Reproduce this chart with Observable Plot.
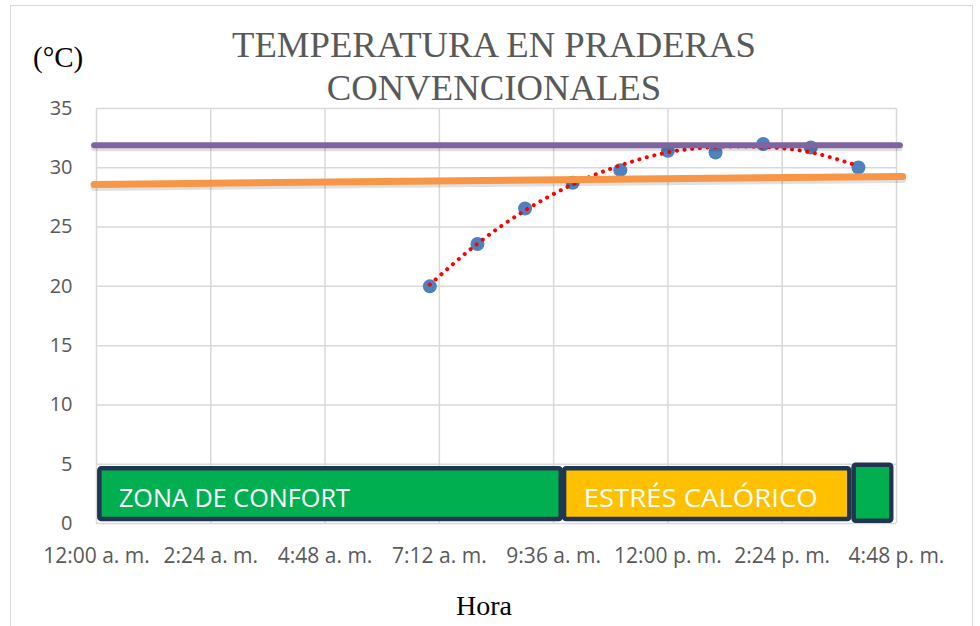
<!DOCTYPE html>
<html>
<head>
<meta charset="utf-8">
<script src="https://cdn.jsdelivr.net/npm/d3@7"></script>
<script src="https://cdn.jsdelivr.net/npm/@observablehq/plot@0.6"></script>
<style>
  body { margin: 0; background: #fff; }
  #wrap { position: relative; width: 980px; height: 626px; overflow: hidden; background: #fff; }
  #wrap svg { position: absolute; left: 0; top: 0; }
  .frame { position: absolute; left: 10px; top: 5px; width: 963px; height: 640px; border: 1.5px solid #d9d9d9; box-sizing: border-box; }
  .title { position: absolute; left: 0; width: 988px; top: 23px; text-align: center; font-family: "Liberation Serif", "Times New Roman", serif; font-size: 36.7px; line-height: 43px; color: #595959; }
  .unit { position: absolute; left: 33px; top: 43px; font-family: "Liberation Serif", serif; font-size: 29px; line-height: 29px; color: #000; }
  .xtitle { position: absolute; left: 0; width: 968px; top: 592px; text-align: center; font-family: "Liberation Serif", serif; font-size: 28px; line-height: 28px; color: #000; }
</style>
</head>
<body>
<div id="wrap">
  <div class="frame"></div>
</div>
<script>
// ---- data ----
const horas = [7, 8, 9, 10, 11, 12, 13, 14, 15, 16];
const temperaturas = [20.0, 23.57, 26.57, 28.74, 29.8, 31.43, 31.29, 32.0, 31.71, 30.03];
const tendencia = [20.15, 23.6, 26.4, 28.6, 30.2, 31.3, 31.75, 31.75, 31.3, 30.15];
const xTicks = [0, 2.4, 4.8, 7.2, 9.6, 12, 14.4, 16.8];
const xTickLabels = ["12:00 a. m.", "2:24 a. m.", "4:48 a. m.", "7:12 a. m.", "9:36 a. m.", "12:00 p. m.", "2:24 p. m.", "4:48 p. m."];
const yTicks = [0, 5, 10, 15, 20, 25, 30, 35];
const limiteSuperiorHoras = [-0.05, 16.87];
const limiteSuperiorTemp = [31.9, 31.9];
const lineaNaranjaHoras = [-0.05, 16.93];
const lineaNaranjaTemp = [28.6, 29.27];
const zonaNombres = ["ZONA DE CONFORT", "ESTRÉS CALÓRICO", ""];
const zonaInicio = [0.07, 9.83, 15.91];
const zonaFin = [9.76, 15.82, 16.70];
const zonaBase = [0.34, 0.34, 0.2];
const zonaTope = [4.62, 4.62, 4.91];
const zonaTipo = ["confort", "estres", "confort"];

// ---- tables ----
const puntos = horas.map((h, i) => ({h, t: temperaturas[i]}));
const trend = horas.map((h, i) => ({h, t: tendencia[i]}));
const purpura = limiteSuperiorHoras.map((h, i) => ({h, t: limiteSuperiorTemp[i]}));
const naranja = lineaNaranjaHoras.map((h, i) => ({h, t: lineaNaranjaTemp[i]}));
const zonas = zonaNombres.map((n, i) => ({n, x1: zonaInicio[i], x2: zonaFin[i], y1: zonaBase[i], y2: zonaTope[i], tipo: zonaTipo[i]}));
const zonaColor = {confort: "#00b050", estres: "#ffc000"};
const labelMap = new Map(xTicks.map((v, i) => [v, xTickLabels[i]]));
const textWidths = {"ZONA DE CONFORT": 231, "ESTRÉS CALÓRICO": 234};

const chart = Plot.plot({
  width: 980,
  height: 626,
  marginLeft: 96,
  marginRight: 84,
  marginTop: 108,
  marginBottom: 103,
  style: {fontFamily: "'Open Sans', sans-serif", background: "transparent"},
  x: {domain: [0, 16.8]},
  y: {domain: [0, 35]},
  marks: [
    Plot.gridX(xTicks, {stroke: "#d9d9d9", strokeOpacity: 1, strokeWidth: 1.5}),
    Plot.gridY(yTicks, {stroke: "#d9d9d9", strokeOpacity: 1, strokeWidth: 1.5}),
    Plot.axisX(xTicks, {tickSize: 0, tickPadding: 25, fontSize: 21, fill: "#595959", tickFormat: d => labelMap.get(d), label: null}),
    Plot.axisY(yTicks, {tickSize: 0, tickPadding: 24, fontSize: 20, fill: "#595959", label: null}),
    Plot.dot(puntos, {x: "h", y: "t", r: 7, fill: "#4f81bd", stroke: "none"}),
    Plot.line(trend, {x: "h", y: "t", curve: "natural", stroke: "#ff0000", strokeWidth: 4, strokeDasharray: "0.1 7.6", strokeLinecap: "round"}),
    Plot.line(naranja, {x: "h", y: "t", stroke: "#000", strokeOpacity: 0.12, strokeWidth: 7, dy: 3}),
    Plot.line(naranja, {x: "h", y: "t", stroke: "#f79646", strokeWidth: 7}),
    Plot.line(purpura, {x: "h", y: "t", stroke: "#000", strokeOpacity: 0.12, strokeWidth: 6, dy: 3}),
    Plot.line(purpura, {x: "h", y: "t", stroke: "#8064a2", strokeWidth: 6}),
    Plot.rect(zonas, {x1: "x1", x2: "x2", y1: "y1", y2: "y2", fill: d => zonaColor[d.tipo], stroke: "#1f3550", strokeWidth: 4.5, rx: 2}),
    Plot.text(zonas, {x: d => d.x1 + 0.4, y: 2.1, text: "n", textAnchor: "start", fill: "#fff", fontSize: 25, fontFamily: "'Open Sans', sans-serif"})
  ]
});

d3.select(chart).selectAll("text").each(function() {
  const w = textWidths[this.textContent];
  if (w) { this.setAttribute("textLength", w); this.setAttribute("lengthAdjust", "spacingAndGlyphs"); }
});

const wrap = document.getElementById("wrap");
wrap.appendChild(chart);
const t = document.createElement("div"); t.className = "title"; t.innerHTML = "TEMPERATURA EN PRADERAS<br>CONVENCIONALES"; wrap.appendChild(t);
const u = document.createElement("div"); u.className = "unit"; u.textContent = "(°C)"; wrap.appendChild(u);
const xt = document.createElement("div"); xt.className = "xtitle"; xt.textContent = "Hora"; wrap.appendChild(xt);
</script>
</body>
</html>
